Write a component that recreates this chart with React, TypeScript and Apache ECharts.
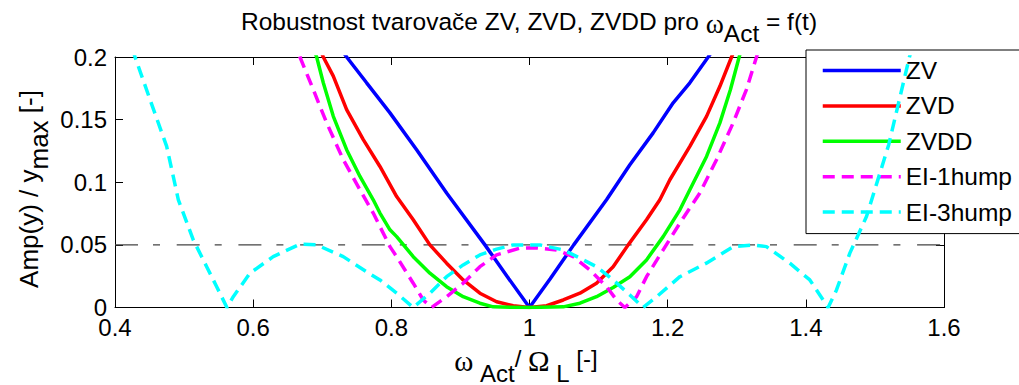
import React, { useEffect, useRef } from "react";
import * as echarts from "echarts";

const FONT = '"Liberation Sans", Arial, Helvetica, sans-serif';
const SERIF = '"Liberation Serif", "DejaVu Serif", serif';

const legendNames = ["ZV", "ZVD", "ZVDD", "EI-1hump", "EI-3hump"];
const xTicks = { min: 0.4, max: 1.6, interval: 0.2 };
const yTicks = { min: 0, max: 0.2, interval: 0.05 };
const limitLevel = 0.05;

const zvData = [
  [0.72, 0.212], [0.7353, 0.2], [0.7642, 0.1794], [0.798, 0.1554], [0.8366, 0.126],
  [0.88, 0.0914], [0.9355, 0.05], [0.97, 0.023], [1.0, 0], [1.03, 0.023],
  [1.064, 0.05], [1.1115, 0.086], [1.1453, 0.114], [1.179, 0.1394], [1.208, 0.1634],
  [1.2321, 0.1794], [1.2587, 0.2], [1.27, 0.209],
];

const zvdData = [
  [0.69, 0.215], [0.7015, 0.2], [0.716, 0.1847], [0.7353, 0.158], [0.7594, 0.134],
  [0.7835, 0.1126], [0.8077, 0.0886], [0.8317, 0.07], [0.8558, 0.05], [0.88, 0.0354],
  [0.904, 0.022], [0.9282, 0.0114], [0.9524, 0.0046], [0.9764, 0.0014], [1.0, 0],
  [1.0248, 0.0014], [1.0488, 0.006], [1.073, 0.0114], [1.097, 0.0194], [1.1211, 0.0326],
  [1.1429, 0.05], [1.1694, 0.07], [1.1887, 0.086], [1.2032, 0.102], [1.2321, 0.1286],
  [1.2563, 0.1526], [1.2756, 0.1766], [1.2925, 0.2], [1.3, 0.21],
];

const zvddData = [
  [0.685, 0.21], [0.6919, 0.2], [0.7015, 0.1794], [0.716, 0.1526], [0.7353, 0.126],
  [0.7546, 0.1046], [0.7738, 0.086], [0.7835, 0.0754], [0.798, 0.062], [0.8077, 0.0566],
  [0.8317, 0.0406], [0.8558, 0.0274], [0.88, 0.0166], [0.904, 0.0086], [0.9282, 0.0034],
  [0.9475, 0.0005], [1.0, 0], [1.0488, 0.0005], [1.073, 0.0034], [1.097, 0.0086],
  [1.1211, 0.016], [1.1453, 0.0246], [1.1694, 0.038], [1.1935, 0.0566], [1.2177, 0.078],
  [1.2321, 0.094], [1.2563, 0.1206], [1.2756, 0.1474], [1.2909, 0.174], [1.3035, 0.2],
  [1.31, 0.212],
];

const ei1Data = [
  [0.66, 0.215], [0.6677, 0.2], [0.687, 0.174], [0.7064, 0.1474], [0.7304, 0.118],
  [0.7546, 0.094], [0.7738, 0.0754], [0.7835, 0.0646], [0.798, 0.0486], [0.8077, 0.0406],
  [0.8317, 0.0194], [0.8462, 0.006], [0.8583, 0], [0.88, 0.0086], [0.904, 0.0194],
  [0.9282, 0.0326], [0.9524, 0.042], [0.9861, 0.0474], [1.0103, 0.0477], [1.0392, 0.046],
  [1.0633, 0.0406], [1.0874, 0.03], [1.1116, 0.0166], [1.126, 0.006], [1.138, 0],
  [1.155, 0.0086], [1.1694, 0.0246], [1.1935, 0.046], [1.2177, 0.0674], [1.2466, 0.0914],
  [1.2707, 0.118], [1.2948, 0.1474], [1.314, 0.174], [1.3286, 0.2], [1.335, 0.212],
];

const ei3Data = [
  [0.425, 0.207], [0.429, 0.2], [0.4507, 0.166], [0.4748, 0.1286], [0.4917, 0.086],
  [0.5133, 0.054], [0.5327, 0.0326], [0.5472, 0.0166], [0.562, 0], [0.5712, 0.0086],
  [0.5954, 0.0274], [0.629, 0.0406], [0.6677, 0.0506], [0.692, 0.05], [0.7304, 0.0406],
  [0.764, 0.0286], [0.7835, 0.022], [0.8077, 0.0114], [0.8317, 0], [0.8558, 0.0114],
  [0.88, 0.0246], [0.904, 0.034], [0.9282, 0.042], [0.9524, 0.0466], [0.9764, 0.05],
  [1.015, 0.05], [1.0488, 0.046], [1.073, 0.0394], [1.097, 0.0326], [1.1211, 0.022],
  [1.1453, 0.01], [1.1645, 0], [1.184, 0.0086], [1.2177, 0.0246], [1.256, 0.0354],
  [1.2948, 0.0486], [1.3237, 0.05], [1.343, 0.0486], [1.3768, 0.0354], [1.4058, 0.022],
  [1.4323, 0], [1.4444, 0.014], [1.4637, 0.0434], [1.4878, 0.0726], [1.52, 0.13],
  [1.55, 0.2], [1.56, 0.22],
];

const seriesDefs = [
  { name: "ZV", data: zvData, color: "#0000ff", dash: "solid" as any },
  { name: "ZVD", data: zvdData, color: "#ff0000", dash: "solid" as any },
  { name: "ZVDD", data: zvddData, color: "#00ff00", dash: "solid" as any },
  { name: "EI-1hump", data: ei1Data, color: "#ff00ff", dash: [12, 7] as any },
  { name: "EI-3hump", data: ei3Data, color: "#00ffff", dash: [12, 7] as any },
];

function richSet(sub: number, size = 24, subLine = 24, greekExtra = 3) {
  const base = { fontSize: size, fontFamily: FONT, lineHeight: 24, fill: "#000", verticalAlign: "top" };
  return {
    a: base,
    w: { ...base, fontFamily: SERIF, fontSize: size + greekExtra },
    s: { ...base, lineHeight: subLine, padding: [sub, 0, 0, 0] },
  };
}

export default function App() {
  const ref = useRef<HTMLDivElement>(null);
  useEffect(() => {
    document.body.style.margin = "0";
    if (!ref.current) return;
    const chart = echarts.init(ref.current, null, { renderer: "svg" });
    const axisLine = { onZero: false, lineStyle: { color: "#000", width: 1 } };
    const tick = { inside: true, length: 8, lineStyle: { color: "#000", width: 1 } };
    const labelStyle = { fontSize: 24, color: "#000", fontFamily: FONT };
    const option: any = {
      animation: false,
      backgroundColor: "#fff",
      grid: { left: 115, right: 75, top: 57, bottom: 77.5, containLabel: false },
      xAxis: [
        {
          type: "value", ...xTicks, position: "bottom",
          axisLine, axisTick: tick, splitLine: { show: false },
          axisLabel: { ...labelStyle, margin: 8 },
        },
        {
          type: "value", ...xTicks, position: "top",
          axisLine, axisTick: tick, splitLine: { show: false },
          axisLabel: { show: false },
        },
      ],
      yAxis: [
        {
          type: "value", ...yTicks, position: "left",
          axisLine, axisTick: tick, splitLine: { show: false },
          axisLabel: { ...labelStyle, margin: 8 },
        },
        {
          type: "value", ...yTicks, position: "right",
          axisLine, axisTick: tick, splitLine: { show: false },
          axisLabel: { show: false },
        },
      ],
      legend: {
        data: legendNames,
        orient: "vertical",
        left: 806,
        top: 50,
        itemWidth: 78,
        itemHeight: 14,
        itemGap: 10.4,
        padding: [8, 40, 9, 15],
        backgroundColor: "#fff",
        borderColor: "#000",
        borderWidth: 1,
        borderRadius: 0,
        itemStyle: { opacity: 0 },
        lineStyle: { width: 3.5 },
        textStyle: { fontSize: 24.5, lineHeight: 24, fontFamily: FONT, color: "#000" },
      },
      graphic: [
        {
          type: "text",
          x: 529,
          y: 9,
          style: {
            text: "{a|Robustnost tvarovače ZV, ZVD, ZVDD pro }{w|ω}{s|Act}{a| = f(t)}",
            align: "center",
            verticalAlign: "top",
            rich: richSet(12, 24.5),
          },
        },
        {
          type: "text",
          x: 526,
          y: 346,
          style: {
            text: "{w|ω}{a| }{s|Act}{a|/ }{w|Ω}{a| }{s|L}{a| [-]}",
            align: "center",
            verticalAlign: "top",
            rich: richSet(15, 24, 18, 5),
          },
        },
        {
          type: "text",
          x: 16,
          y: 189,
          rotation: Math.PI / 2,
          style: {
            text: "{a|Amp(y) / y}{s|max}{a| [-]}",
            align: "center",
            verticalAlign: "top",
            rich: richSet(10, 26),
          },
        },
      ],
      series: [
        {
          name: "limit",
          type: "line",
          data: [[xTicks.min, limitLevel], [xTicks.max, limitLevel]],
          symbol: "none",
          silent: true,
          z: 1,
          lineStyle: { color: "#444", width: 1.2, type: [23, 15, 7, 16.7] },
        },
        ...seriesDefs.map((s, i) => ({
          name: s.name,
          type: "line",
          data: s.data,
          symbol: "none",
          showSymbol: false,
          clip: true,
          z: 2 + i,
          itemStyle: { color: s.color },
          lineStyle: { color: s.color, width: 3.5, type: s.dash },
        })),
      ],
    };
    chart.setOption(option);
    return () => chart.dispose();
  }, []);
  return (
    <div
      ref={ref}
      style={{ position: "fixed", left: 0, top: 0, width: 1019, height: 385 }}
    />
  );
}
